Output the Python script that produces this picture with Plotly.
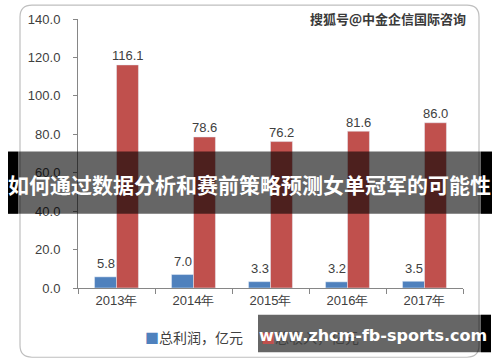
import plotly.graph_objects as go

years = ["2013年", "2014年", "2015年", "2016年", "2017年"]
profit = [5.8, 7.0, 3.3, 3.2, 3.5]
cost = [116.1, 78.6, 76.2, 81.6, 86.0]
profit_name = "总利润，亿元"
cost_name = "总收入，亿元"
y_ticks = [0, 20, 40, 60, 80, 100, 120, 140]

BLUE = "#4F81BD"
RED = "#C0504D"
TXT = "#404040"
FONT = "Liberation Sans, Arial, sans-serif"

W, H = 500, 362
L, R, T, B = 78, 463, 16, 288


def px(x):
    return (x - L) / (R - L)


def py(y):
    return (B - y) / (B - T)


fig = go.Figure()
fig.add_trace(go.Bar(x=years, y=profit, name=profit_name, marker_color=BLUE))
fig.add_trace(go.Bar(x=years, y=cost, name=cost_name, marker_color=RED))

annotations = []
for cat, v in zip(years, profit):
    annotations.append(dict(x=cat, y=v, xref="x", yref="y", text=f"{v:.1f}",
                            showarrow=False, xshift=-11, yshift=13, yanchor="middle",
                            font=dict(size=13, color=TXT, family=FONT)))
for cat, v in zip(years, cost):
    annotations.append(dict(x=cat, y=v, xref="x", yref="y", text=f"{v:.1f}",
                            showarrow=False, xshift=11, yshift=9, yanchor="middle",
                            font=dict(size=13, color=TXT, family=FONT)))

# manual legend
annotations.append(dict(x=px(143), y=py(338), xref="paper", yref="paper",
                        xanchor="left", yanchor="middle", showarrow=False,
                        text=f"<span style='color:{BLUE}'>■</span>{profit_name}",
                        font=dict(size=14, color=TXT, family="Noto Sans CJK SC")))
annotations.append(dict(x=px(259), y=py(338), xref="paper", yref="paper",
                        xanchor="left", yanchor="middle", showarrow=False,
                        text=f"<span style='color:{RED}'>■</span>{cost_name}",
                        font=dict(size=14, color=TXT, family="Noto Sans CJK SC")))

# top-right source mark
annotations.append(dict(x=px(468), y=py(15), xref="paper", yref="paper",
                        xanchor="right", yanchor="middle", showarrow=False,
                        text="<b>搜狐号@中金企信国际咨询</b>",
                        font=dict(size=13, color="#3a3a3a", family="Noto Sans CJK SC")))

shapes = []
# rounded chart border
x0, x1, y0, y1 = px(20), px(479), py(2), py(358)
rx, ry = 12 / (R - L), 12 / (B - T)
path = (f"M {x0+rx},{y0} L {x1-rx},{y0} Q {x1},{y0} {x1},{y0-ry} "
        f"L {x1},{y1+ry} Q {x1},{y1} {x1-rx},{y1} L {x0+rx},{y1} "
        f"Q {x0},{y1} {x0},{y1+ry} L {x0},{y0-ry} Q {x0},{y0} {x0+rx},{y0} Z")
shapes.append(dict(type="path", path=path, xref="paper", yref="paper",
                   line=dict(color="#BFBFBF", width=1.2), layer="below"))

# title banner overlay
shapes.append(dict(type="rect", xref="paper", yref="paper", x0=px(8), x1=px(18),
                   y0=py(150), y1=py(213), fillcolor="black", line_width=0, layer="above"))
shapes.append(dict(type="rect", xref="paper", yref="paper", x0=px(18), x1=px(481),
                   y0=py(150), y1=py(213), fillcolor="rgba(0,0,0,0.6)", line_width=0, layer="above"))
shapes.append(dict(type="rect", xref="paper", yref="paper", x0=px(481), x1=px(492),
                   y0=py(150), y1=py(213), fillcolor="black", line_width=0, layer="above"))

# bottom url box
shapes.append(dict(type="rect", xref="paper", yref="paper", x0=px(258), x1=px(481),
                   y0=py(315), y1=py(353), fillcolor="rgba(0,0,0,0.6)", line_width=0, layer="above"))
shapes.append(dict(type="rect", xref="paper", yref="paper", x0=px(481), x1=px(491),
                   y0=py(315), y1=py(353), fillcolor="black", line_width=0, layer="above"))

annotations.append(dict(x=px(249), y=py(183), xref="paper", yref="paper",
                        xanchor="center", yanchor="middle", showarrow=False,
                        text="<b>如何通过数据分析和赛前策略预测女单冠军的可能性</b>",
                        font=dict(size=21, color="white", family="Noto Sans CJK SC")))
annotations.append(dict(x=px(373), y=py(336), xref="paper", yref="paper",
                        xanchor="center", yanchor="middle", showarrow=False,
                        text="<b>www.zhcm-fb-sports.com</b>",
                        font=dict(size=16, color="white", family="DejaVu Sans")))

fig.update_layout(
    width=W, height=H,
    margin=dict(l=L, r=W - R, t=T, b=H - B, pad=0),
    paper_bgcolor="white", plot_bgcolor="white",
    barmode="group", bargap=0.43, bargroupgap=0,
    showlegend=False,
    annotations=annotations, shapes=shapes,
    xaxis=dict(showline=True, linecolor="#868686", linewidth=1,
               ticks="outside", tickson="boundaries", ticklen=5, tickcolor="#868686",
               tickfont=dict(size=13, color=TXT, family=FONT), showgrid=False),
    yaxis=dict(range=[0, 140], tickvals=y_ticks, tickformat=".1f",
               showline=True, linecolor="#868686", linewidth=1,
               ticks="outside", ticklen=4, tickcolor="#868686", ticklabelstandoff=10,
               tickfont=dict(size=13, color=TXT, family=FONT), showgrid=False, zeroline=False),
)

fig.write_html("out.html", config={"displayModeBar": False},
               post_script="document.body.style.margin='0';document.body.style.overflow='hidden';")
